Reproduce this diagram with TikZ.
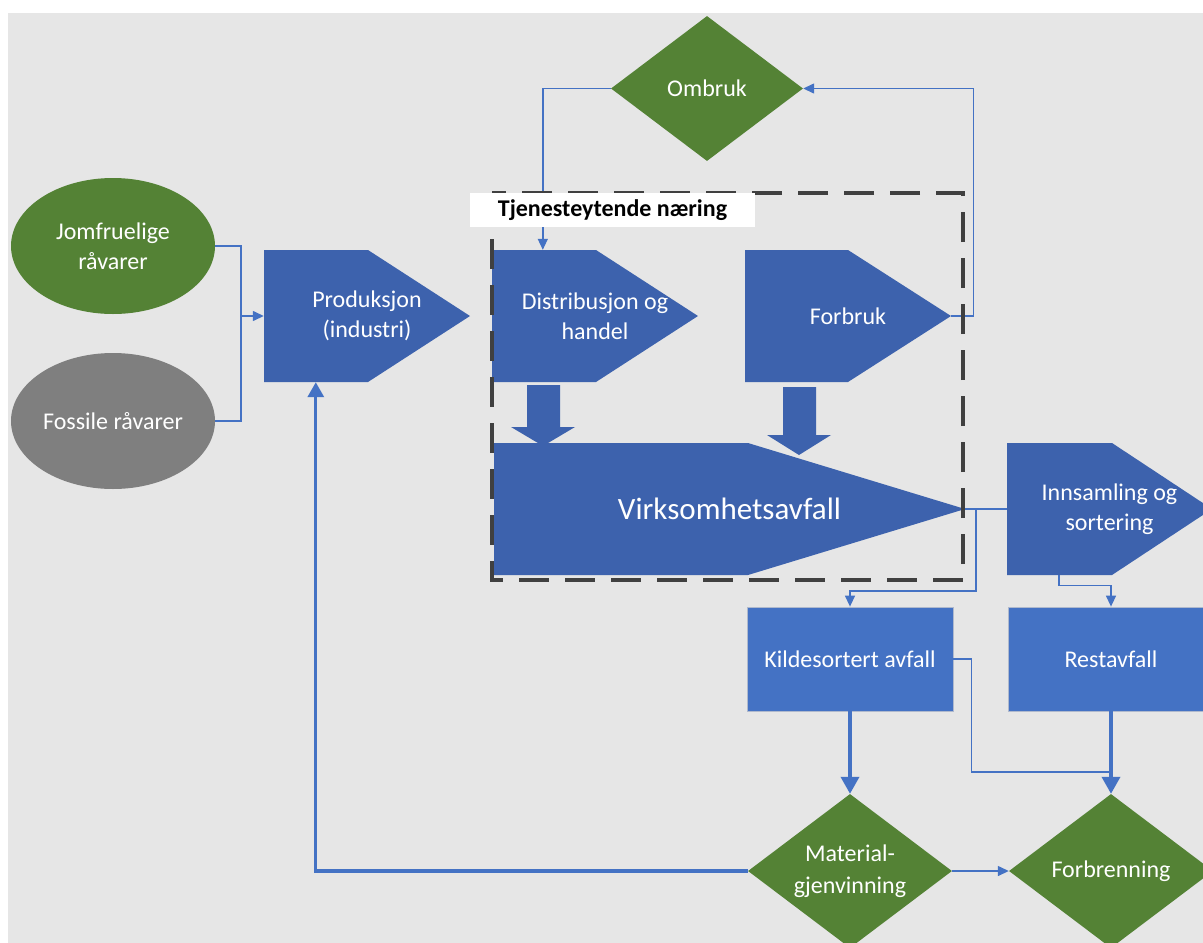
\documentclass[tikz,border=0pt]{standalone}
\usepackage{fontspec}
\setmainfont{Carlito}
\usetikzlibrary{arrows.meta,calc,shapes.geometric}

\definecolor{canvas}{HTML}{E6E6E6}
\definecolor{navy}{HTML}{3D62AD}
\definecolor{boxblue}{HTML}{4472C4}
\definecolor{leaf}{HTML}{548235}
\definecolor{stone}{HTML}{7F7F7F}
\definecolor{wire}{HTML}{4472C4}
\definecolor{frame}{HTML}{404040}

\tikzset{
  txt/.style={text=white, align=center, inner sep=0pt,
    font=\fontsize{24}{30}\selectfont},
  pentfill/.style={fill=navy},
  procbox/.style={txt, rectangle, fill=boxblue, draw={rgb,255:red,175;green,185;blue,205},
    line width=0.8pt, minimum width=206pt, minimum height=104pt},
  decision/.style={txt, diamond, fill=leaf, aspect=1.32, inner sep=0pt,
    minimum width=204pt, minimum height=154pt},
  source/.style={txt, ellipse, minimum width=204pt, minimum height=136pt},
  flow/.style={draw=wire, line width=1.4pt},
  flowtip/.style={flow, -{Triangle[length=11pt,width=10pt]}},
  bigflow/.style={draw=wire, line width=3.6pt, -{Triangle[length=17pt,width=18pt]}},
}

% pentagon-shaped process block: name, left, top, slant start, tip, bottom, text
\newcommand\pentanode[7]{%
  \fill[pentfill] (#2,#3) -- (#4,#3) -- (#5,{(#3+#6)/2}) -- (#4,#6) -- (#2,#6) -- cycle;
  \node[txt, minimum width={#5-#2}, minimum height={#6-#3}] (#1)
    at ({(#2+#5)/2},{(#3+#6)/2}) {#7};
}

% wide downward block arrow: shaft left, shaft right, head left, head right, top, head base, tip
\newcommand\blockdown[7]{%
  \fill[pentfill] (#1,#5) -- (#2,#5) -- (#2,#6) -- (#4,#6) -- ({(#3+#4)/2},#7)
    -- (#3,#6) -- (#1,#6) -- cycle;
}

\begin{document}
\begin{tikzpicture}[x=1pt,y=-1pt]
  \useasboundingbox (0,0) rectangle (1203,943);
  \fill[white] (0,0) rectangle (1203,943);
  \fill[canvas] (8,13) rectangle (1203,943);

  % raw materials
  \node[source, fill=leaf] (jomf) at (113,246) {Jomfruelige\\råvarer};
  \node[source, fill=stone] (foss) at (113,421) {Fossile råvarer};

  % process blocks
  \pentanode{prod}{264}{250}{368}{470}{382}{Produksjon\\(industri)}
  \pentanode{dist}{492}{250}{596}{698}{382}{Distribusjon og\\handel}
  \pentanode{forbr}{745}{250}{848}{951}{382}{Forbruk}
  \pentanode{inns}{1007}{443}{1112}{1212}{575}{Innsamling og\\sortering}

  % business waste block
  \fill[pentfill] (494,443) -- (748,443) -- (965,509) -- (748,575) -- (494,575) -- cycle;
  \node[txt, font=\fontsize{31}{37}\selectfont, minimum width=471pt, minimum height=132pt]
    (virk) at (729.5,509) {Virksomhetsavfall};

  % block arrows into the waste block
  \blockdown{527}{560}{511}{575}{385}{427}{446}
  \blockdown{783}{816}{767}{831}{387}{435}{455}

  % decisions
  \node[decision, minimum width=192pt, minimum height=145pt] (omb) at (707,88.5) {Ombruk};
  \node[decision, font=\fontsize{24}{32}\selectfont] (mat) at (850,871) {Material-\\gjenvinning};
  \node[decision] (forb) at (1111,871) {Forbrenning};

  % waste fractions
  \node[procbox] (kilde) at (850,659) {Kildesortert avfall};
  \node[procbox] (rest) at (1111,659) {Restavfall};

  % inputs to production
  \coordinate (junc) at (241,316);
  \draw[flow] (jomf.east) -| (junc) |- (foss.east);
  \draw[flowtip] (junc) -- (prod.west);

  % reuse loop
  \draw[flowtip] (omb.west) -| ($(dist.north west)+(51,0)$);
  \draw[flowtip] (forbr.east) -- ++(22,0) |- (omb.east);

  % collection and sorting
  \coordinate (jn) at (976,509);
  \draw[flow] (virk.east) -- (jn);
  \draw[flowtip] (inns.west) -- (jn) -- (jn |- 0,591) -| (kilde.north);
  \draw[flowtip] ($(inns.south west)+(52,0)$) -- ++(0,10) -| (rest.north);

  % treatment
  \draw[flow] (kilde.east) -- ++(18,0) |- ($(forb.north)+(0,-22)$);
  \draw[bigflow] (kilde.south) -- (mat.north);
  \draw[bigflow] (rest.south) -- (forb.north);
  \draw[flowtip] (mat.east) -- (forb.west);
  \draw[draw=wire, line width=3.2pt, -{Triangle[length=15pt,width=16pt]}]
    (mat.west) -| ($(prod.south west)+(52,0)$);

  % service industry boundary
  \draw[frame, line width=3.5pt, dash pattern=on 30pt off 16pt]
    (492,193) rectangle (963,580);
  \node[fill=white, text=black, inner sep=0pt, minimum width=285pt, minimum height=34pt,
    font=\fontsize{24}{29}\selectfont\bfseries] (lbl) at (612.5,210) {Tjenesteytende næring};
\end{tikzpicture}
\end{document}
